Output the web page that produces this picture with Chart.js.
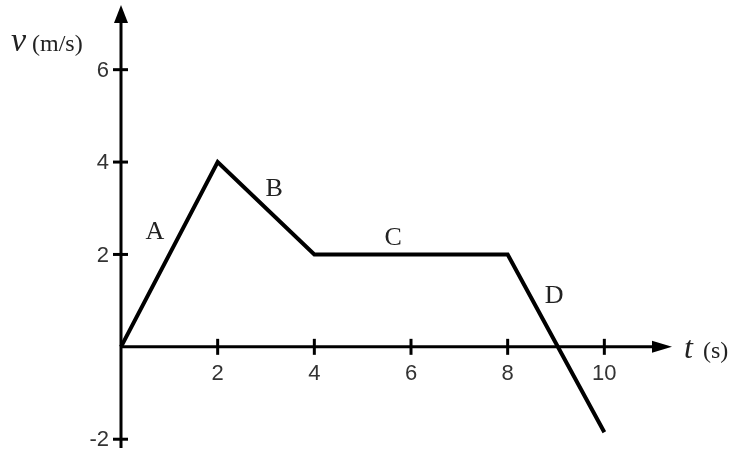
<!DOCTYPE html>
<html>
<head>
<meta charset="utf-8">
<script src="https://cdn.jsdelivr.net/npm/chart.js@4/dist/chart.umd.min.js"></script>
<style>
  html, body { margin: 0; padding: 0; background: #fff; }
  #wrap { width: 733px; height: 453px; position: relative; }
</style>
</head>
<body>
<div id="wrap"><canvas id="velocityChart"></canvas></div>
<script>
// velocity-time graph data
const times = [0, 2, 4, 8, 10];
const velocities = [0, 4, 2, 2, -1.85];
const xTickValues = [2, 4, 6, 8, 10];
const yTickValues = [-2, 2, 4, 6];
const segmentNames = ['A', 'B', 'C', 'D'];
const segmentLabelX = [0.7, 3.17, 5.63, 8.96];
const segmentLabelY = [2.49, 3.42, 2.36, 1.1];

const points = times.map((t, i) => ({ x: t, y: velocities[i] }));

// draws the axes through the origin, arrows, ticks and labels
const axesPlugin = {
    id: 'axesThroughOrigin',
    beforeDatasetsDraw(chart) {
        const ctx = chart.ctx;
        const xs = chart.scales.x;
        const ys = chart.scales.y;
        const area = chart.chartArea;
        const x0 = xs.getPixelForValue(0);
        const y0 = ys.getPixelForValue(0);

        ctx.save();
        ctx.strokeStyle = '#000';
        ctx.fillStyle = '#000';
        ctx.lineWidth = 3;

        // y axis
        ctx.beginPath();
        ctx.moveTo(x0, area.bottom);
        ctx.lineTo(x0, area.top + 10);
        ctx.stroke();
        ctx.beginPath();
        ctx.moveTo(x0, area.top);
        ctx.lineTo(x0 - 7, area.top + 18);
        ctx.lineTo(x0 + 7, area.top + 18);
        ctx.closePath();
        ctx.fill();

        // x axis
        ctx.beginPath();
        ctx.moveTo(x0, y0);
        ctx.lineTo(area.right - 10, y0);
        ctx.stroke();
        ctx.beginPath();
        ctx.moveTo(area.right, y0);
        ctx.lineTo(area.right - 20, y0 - 6);
        ctx.lineTo(area.right - 20, y0 + 6);
        ctx.closePath();
        ctx.fill();

        // tick marks
        xTickValues.forEach(v => {
            const px = xs.getPixelForValue(v);
            ctx.beginPath();
            ctx.moveTo(px, y0 - 8);
            ctx.lineTo(px, y0 + 8);
            ctx.stroke();
        });
        yTickValues.forEach(v => {
            const py = ys.getPixelForValue(v);
            ctx.beginPath();
            ctx.moveTo(x0 - 8, py);
            ctx.lineTo(x0 + 7, py);
            ctx.stroke();
        });

        // tick labels
        ctx.fillStyle = '#333';
        ctx.font = '22px "Liberation Sans"';
        ctx.textAlign = 'center';
        ctx.textBaseline = 'middle';
        xTickValues.forEach(v => {
            ctx.fillText(String(v), xs.getPixelForValue(v), y0 + 27);
        });
        ctx.textAlign = 'right';
        yTickValues.forEach(v => {
            ctx.fillText(String(v), x0 - 12, ys.getPixelForValue(v) + 1);
        });

        // axis titles
        ctx.fillStyle = '#222';
        ctx.textAlign = 'left';
        ctx.font = 'italic 34px "Liberation Serif"';
        ctx.fillText('v', 11, 42);
        ctx.font = '24px "Liberation Serif"';
        ctx.fillText('(m/s)', 32, 45);
        ctx.font = 'italic 32px "Liberation Serif"';
        ctx.fillText('t', 684, 350);
        ctx.font = '24px "Liberation Serif"';
        ctx.fillText('(s)', 703, 352);

        // segment names
        ctx.font = '26px "Liberation Serif"';
        ctx.textAlign = 'center';
        segmentNames.forEach((name, i) => {
            ctx.fillText(name, xs.getPixelForValue(segmentLabelX[i]), ys.getPixelForValue(segmentLabelY[i]));
        });
        ctx.restore();
    }
};

const ctx = document.getElementById('velocityChart').getContext('2d');
new Chart(ctx, {
    type: 'scatter',
    data: {
        datasets: [{
            data: points,
            showLine: true,
            borderColor: '#000',
            borderWidth: 4,
            pointRadius: 0,
            fill: false,
            clip: false,
        }],
    },
    options: {
        responsive: true,
        maintainAspectRatio: false,
        animation: false,
        layout: {
            padding: { left: 121, right: 61, top: 5, bottom: 5 },
        },
        plugins: {
            legend: { display: false },
            tooltip: { enabled: false },
        },
        scales: {
            x: { type: 'linear', min: 0, max: 11.4, display: false },
            y: { type: 'linear', min: -2.19, max: 7.4, display: false },
        },
    },
    plugins: [axesPlugin],
});
</script>
</body>
</html>
